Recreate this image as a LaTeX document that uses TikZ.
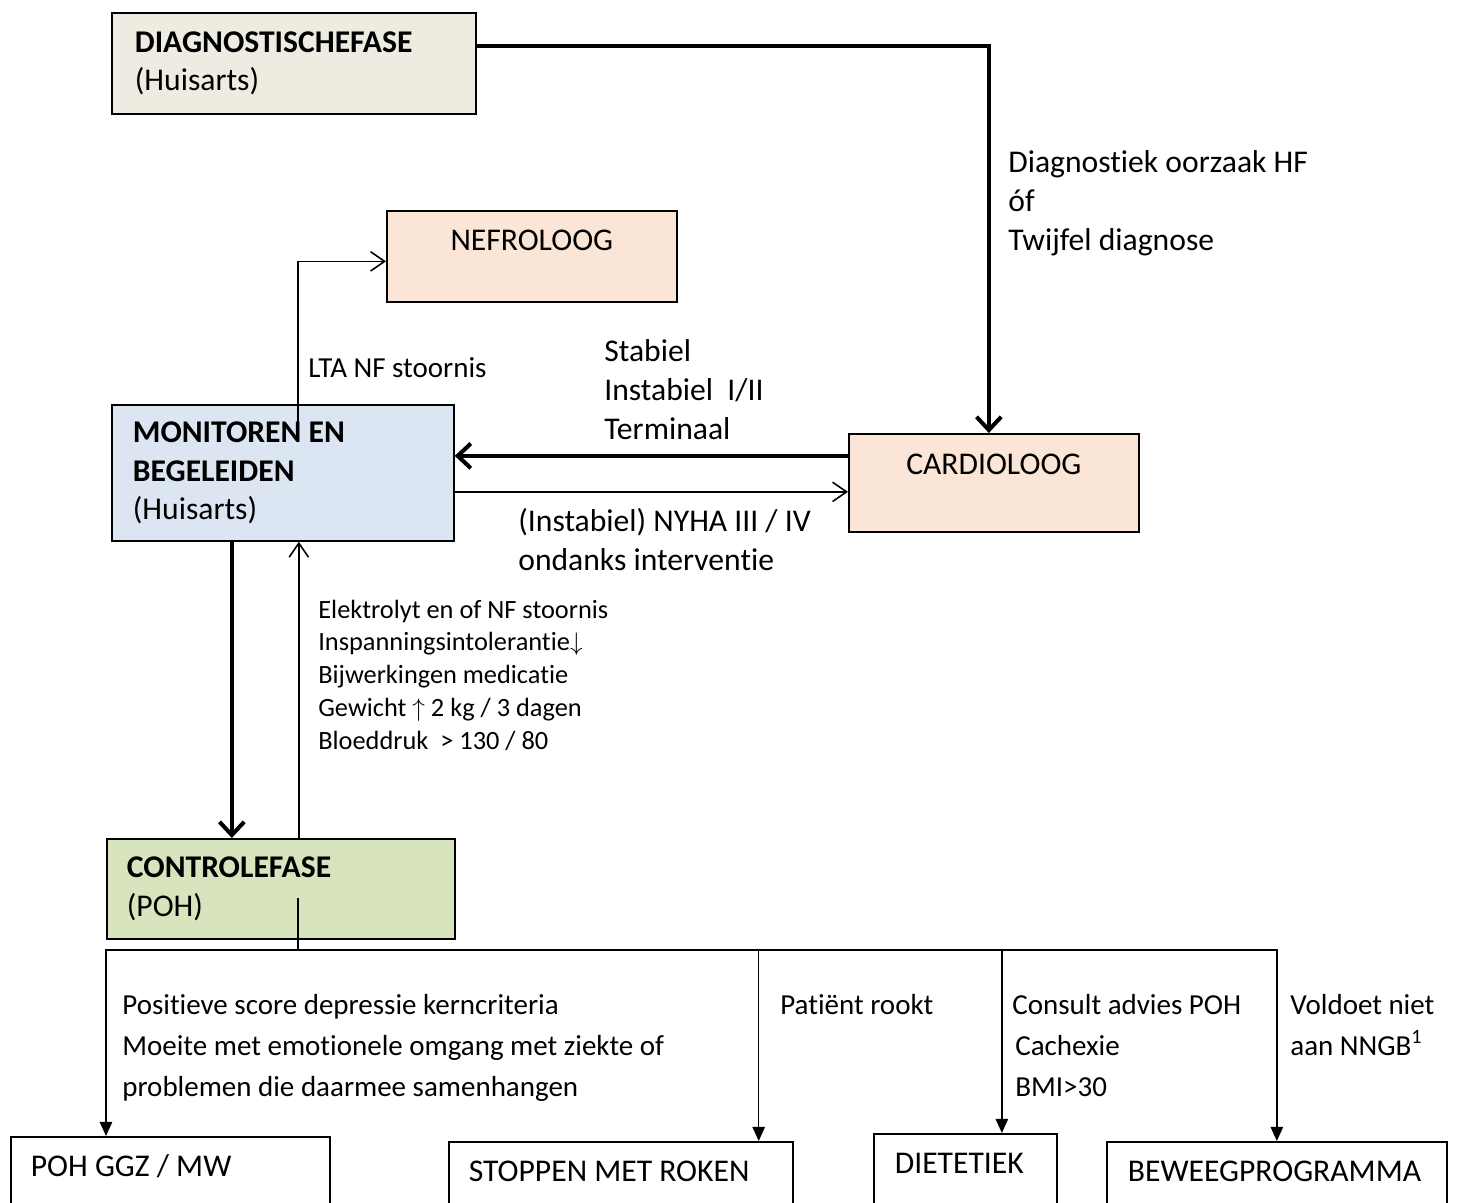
\documentclass[tikz,border=0pt]{standalone}
\usepackage{fontspec}
\setmainfont{Carlito}[Ligatures=NoCommon]
\usetikzlibrary{arrows.meta,positioning}

\definecolor{diagfill}{HTML}{EEECE1}
\definecolor{specfill}{HTML}{FBE5D6}
\definecolor{monfill}{HTML}{DCE6F2}
\definecolor{ctrlfill}{HTML}{D7E4BD}

\tikzset{
	phase/.style={draw, line width=1pt, anchor=north west, align=flush left, inner xsep=0.42cm, inner ysep=0pt},
	refer/.style={draw, line width=1pt, anchor=north west, inner ysep=0pt, text height=0.8cm},
	thickarrow/.style={line width=2.3pt, -{Straight Barb[length=7.5pt,width=14pt]}},
	thinarrow/.style={line width=0.9pt, -{Straight Barb[length=8pt,width=11pt]}},
	branch/.style={line width=0.9pt, -{Triangle[length=8pt,width=7pt]}},
	note/.style={anchor=base west, align=left, inner sep=0pt},
	midfont/.style={font=\fontsize{16.5}{23.2}\selectfont},
	smallfont/.style={font=\fontsize{15}{18.6}\selectfont},
}

\begin{document}
\begin{tikzpicture}[x=0.02cm, y=-0.02cm, font=\fontsize{18}{22}\selectfont]
		\clip (0,0) rectangle (1457,1203);
		\node[phase, fill=diagfill, inner xsep=0.46cm, text width=6.36cm, minimum height=2.02cm] (diag) at (111,12) {\textbf{DIAGNOSTISCHEFASE}\\(Huisarts)};
		\node[refer, fill=specfill, text width=5.8cm, align=flush center, text depth=1.02cm, inner xsep=0pt] (nefro) at (386,210) {NEFROLOOG};
		\node[refer, fill=specfill, text width=5.8cm, align=flush center, text height=0.82cm, text depth=1.14cm, inner xsep=0pt] (cardio) at (848,433) {CARDIOLOOG};
		\node[phase, fill=monfill, text width=6cm, minimum height=2.72cm] (monitor) at (111,404) {\textbf{MONITOREN EN}\\\textbf{BEGELEIDEN}\\(Huisarts)};
		\node[phase, fill=ctrlfill, inner xsep=0.4cm, text width=6.16cm, minimum height=2cm] (control) at (106,838) {\textbf{CONTROLEFASE}\\(POH)};
		\node[refer, inner xsep=0.4cm, align=flush left, text width=5.58cm, text depth=1.5cm] (ggz) at (10,1136) {POH GGZ / MW};
		\node[refer, inner xsep=0.4cm, align=flush left, text width=6.08cm, text depth=1.5cm] (roken) at (448,1141) {STOPPEN MET ROKEN};
		\node[refer, inner xsep=0.42cm, align=flush left, text width=2.82cm, text depth=1.5cm] (diet) at (873,1133) {DIETETIEK};
		\node[refer, inner xsep=0.42cm, align=flush left, text width=5.96cm, text depth=1.5cm] (beweeg) at (1106,1141) {BEWEEGPROGRAMMA};

		\node[note] (diaglbl) at (1008,250) {Diagnostiek oorzaak HF\\óf\\Twijfel diagnose};
		\node[note] (statuslbl) at (604,439) {Stabiel\\Instabiel\ \ I/II\\Terminaal};
		\node[note] (nyhalbl) at (518,570) {(Instabiel) NYHA III / IV\\ondanks interventie};
		\node[note, midfont] (ltalbl) at (308,377) {LTA NF stoornis};
		\node[note, smallfont] (signlbl) at (318,749) {Elektrolyt en of NF stoornis\\Inspanningsintolerantie$\downarrow$\\Bijwerkingen medicatie\\Gewicht $\uparrow$ 2 kg / 3 dagen\\Bloeddruk\ \ > 130 / 80};
		\node[note, midfont] (ggzlbl) at (122,1096) {Positieve score depressie kerncriteria\\Moeite met emotionele omgang met ziekte of\\problemen die daarmee samenhangen};
		\node[note, midfont] (rookt) at (780,1014) {Patiënt rookt};
		\node[note, midfont] (dietlbl) at (1012,1096) {Consult advies POH\\\hspace{0.06cm}Cachexie\\\hspace{0.06cm}BMI>30};
		\node[note, midfont] (nngb) at (1290,1055) {Voldoet niet\\aan NNGB\textsuperscript{1}};

		\draw[thickarrow] ([yshift=-0.68cm]diag.north east) -| ([xshift=-0.1cm]cardio.north);
		\draw[thickarrow] ([yshift=0.54cm]cardio.west) -- ([yshift=0.54cm]cardio.west -| monitor.east);
		\draw[thinarrow] ([yshift=-0.38cm]monitor.east) -- ([yshift=-0.38cm]monitor.east -| cardio.west);
		\draw[thinarrow] ([xshift=3.74cm,yshift=-0.42cm]monitor.north west) |- ([yshift=-0.1cm]nefro.west);
		\draw[thickarrow] ([xshift=-1.02cm]monitor.south) -- ([xshift=-1.02cm]monitor.south |- control.north);
		\draw[thinarrow] ([xshift=0.32cm]monitor.south |- control.north) -- ([xshift=0.32cm]monitor.south);

		\coordinate (bus) at (298,950);
		\draw[line width=0.9pt] ([yshift=-1.2cm]control.north -| bus) -- (bus);
		\draw[branch] (bus) -| ([xshift=1.92cm]ggz.north west);
		\draw[branch] (bus) -| ([xshift=-0.7cm]roken.north east);
		\draw[branch] (bus) -| ([xshift=0.73cm]diet.north);
		\draw[branch] (bus) -| (beweeg.north);
	\end{tikzpicture}
\end{document}
